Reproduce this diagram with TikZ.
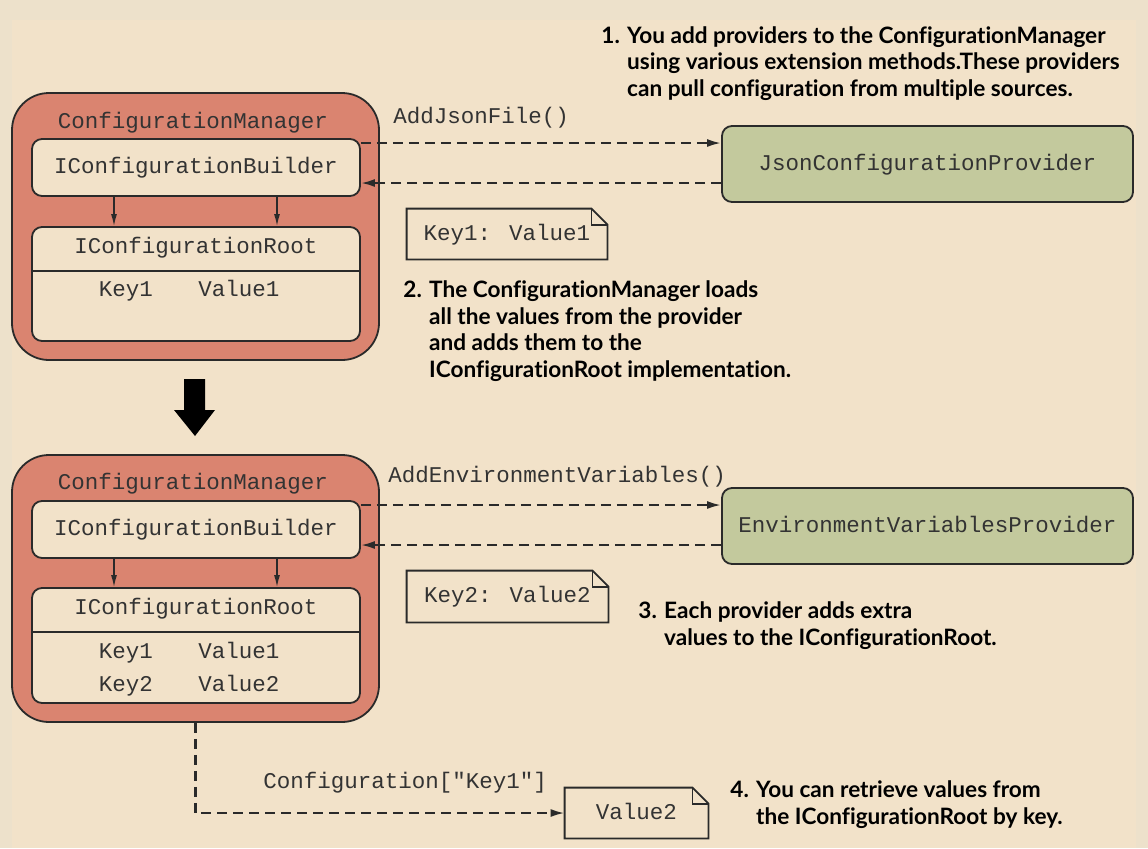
\documentclass[tikz,border=0pt]{standalone}
\usepackage{fontspec}
\usepackage{xcolor}
\usetikzlibrary{arrows.meta}

\newfontfamily\codefont{Liberation Mono}
\newfontfamily\notefont{Lato}[Ligatures=NoCommon]

\definecolor{panelbg}{HTML}{F2E2C9}
\definecolor{edgebg}{HTML}{EDE1CB}
\definecolor{mgrfill}{HTML}{DA8470}
\definecolor{provfill}{HTML}{C3C99D}
\definecolor{inkline}{HTML}{2A2A2A}
\definecolor{inktext}{HTML}{333333}

\begin{document}
\begin{tikzpicture}[x=0.5pt,y=-0.5pt,
    code/.style={font=\codefont\fontsize{11.25}{13}\selectfont, text=inktext, inner sep=0pt, text height=8pt, text depth=1.6pt},
    remark/.style={font=\notefont\bfseries\fontsize{11.3}{13.2}\selectfont, text=black, align=left, anchor=base west, inner sep=0pt},
    manager/.style={draw=inkline, line width=0.9pt, fill=mgrfill, rounded corners=18.5pt, minimum width=183.5pt, minimum height=133.5pt},
    builder/.style={draw=inkline, line width=0.9pt, fill=panelbg, rounded corners=5pt, minimum width=164pt, minimum height=28.5pt, code},
    rootbox/.style={draw=inkline, line width=0.9pt, fill=panelbg, rounded corners=5pt, minimum width=164pt},
    provider/.style={draw=inkline, line width=0.9pt, fill=provfill, rounded corners=5pt, minimum width=205.5pt, minimum height=38pt, code},
    notebox/.style={minimum height=25pt, code},
    flow/.style={dashed, dash pattern=on 5pt off 3pt, line width=1.1pt, draw=inkline, -{Latex[length=7pt,width=4pt]}},
    feed/.style={line width=0.7pt, draw=inkline, -{Latex[length=6pt,width=3pt]}}]
    \useasboundingbox (0,0) rectangle (1148,848);
    \fill[edgebg] (0,0) rectangle (1148,848);
    \fill[panelbg] (12,20) rectangle (1136,848);

    % first state
    \node[manager] (mgrA) at (195.5,226.5) {};
    \node[code] at (193,122) {ConfigurationManager};
    \node[builder] (bldA) at (196,167.5) {IConfigurationBuilder};
    \node[rootbox, minimum height=57pt] (rootA) at (196,284) {};
    \draw[inkline, line width=0.9pt] (rootA.west |- 0,271) -- (rootA.east |- 0,271);
    \node[code] at (196,247) {IConfigurationRoot};
    \node[code] at (126,290) {Key1};
    \node[code] at (239,290) {Value1};
    \draw[feed] ([xshift=-41pt]bldA.south) -- ([xshift=-41pt]rootA.north);
    \draw[feed] ([xshift=40.5pt]bldA.south) -- ([xshift=40.5pt]rootA.north);

    \node[provider] (jsonProv) at (927.5,164) {JsonConfigurationProvider};
    \draw[flow] ([yshift=12.25pt]bldA.east) -- ([yshift=12.25pt]bldA.east -| jsonProv.west);
    \draw[flow] ([yshift=-7.75pt]bldA.east -| jsonProv.west) -- ([yshift=-7.75pt]bldA.east);
    \node[code, anchor=west] at (393,117) {AddJsonFile()};

    \node[notebox, minimum width=100pt] (noteA) at (507,234) {Key1: Value1};
    \draw[inkline, line width=0.9pt] (noteA.north west) -- ([xshift=-8pt]noteA.north east) -- ([yshift=-8pt]noteA.north east) -- (noteA.south east) -- (noteA.south west) -- cycle;
    \draw[inkline, line width=0.9pt] ([xshift=-8pt]noteA.north east) |- ([yshift=-8pt]noteA.north east);

    % step arrow
    \fill[black] (184,379) -- (205,379) -- (205,410) -- (215,410) -- (195,436) -- (174,410) -- (184,410) -- cycle;

    % second state
    \node[manager] (mgrB) at (195.5,588.5) {};
    \node[code] at (193,483) {ConfigurationManager};
    \node[builder] (bldB) at (196,529.5) {IConfigurationBuilder};
    \node[rootbox, minimum height=57.5pt] (rootB) at (196,645.5) {};
    \draw[inkline, line width=0.9pt] (rootB.west |- 0,632) -- (rootB.east |- 0,632);
    \node[code] at (196,608) {IConfigurationRoot};
    \node[code] at (126,652) {Key1};
    \node[code] at (239,652) {Value1};
    \node[code] at (126,685) {Key2};
    \node[code] at (239,685) {Value2};
    \draw[feed] ([xshift=-41pt]bldB.south) -- ([xshift=-41pt]rootB.north);
    \draw[feed] ([xshift=40.5pt]bldB.south) -- ([xshift=40.5pt]rootB.north);

    \node[provider] (envProv) at (927.5,526) {EnvironmentVariablesProvider};
    \draw[flow] ([yshift=12.25pt]bldB.east) -- ([yshift=12.25pt]bldB.east -| envProv.west);
    \draw[flow] ([yshift=-7.75pt]bldB.east -| envProv.west) -- ([yshift=-7.75pt]bldB.east);
    \node[code, anchor=west] at (388,476) {AddEnvironmentVariables()};

    \node[notebox, minimum width=100.5pt, minimum height=25.5pt] (noteB) at (507.5,596.5) {Key2: Value2};
    \draw[inkline, line width=0.9pt] (noteB.north west) -- ([xshift=-8pt]noteB.north east) -- ([yshift=-8pt]noteB.north east) -- (noteB.south east) -- (noteB.south west) -- cycle;
    \draw[inkline, line width=0.9pt] ([xshift=-8pt]noteB.north east) |- ([yshift=-8pt]noteB.north east);

    % lookup
    \node[notebox, minimum width=71.5pt] (noteVal) at (636.5,813) {Value2};
    \draw[inkline, line width=0.9pt] (noteVal.north west) -- ([xshift=-8pt]noteVal.north east) -- ([yshift=-8pt]noteVal.north east) -- (noteVal.south east) -- (noteVal.south west) -- cycle;
    \draw[inkline, line width=0.9pt] ([xshift=-8pt]noteVal.north east) |- ([yshift=-8pt]noteVal.north east);
    \draw[flow] (mgrB.south) |- (noteVal.west);
    \node[code, anchor=west] at (263,782) {Configuration["Key1"]};

    % remarks (anchored at the last line)
    \node[remark] at (601,96) {1. You add providers to the ConfigurationManager\\
        \phantom{1. }using various extension methods.These providers\\
        \phantom{1. }can pull configuration from multiple sources.};
    \node[remark] at (403,377) {2. The ConfigurationManager loads\\
        \phantom{2. }all the values from the provider\\
        \phantom{2. }and adds them to the\\
        \phantom{2. }IConfigurationRoot implementation.};
    \node[remark] at (638,645) {3. Each provider adds extra\\
        \phantom{3. }values to the IConfigurationRoot.};
    \node[remark] at (730,824) {4. You can retrieve values from\\
        \phantom{4. }the IConfigurationRoot by key.};
\end{tikzpicture}
\end{document}
